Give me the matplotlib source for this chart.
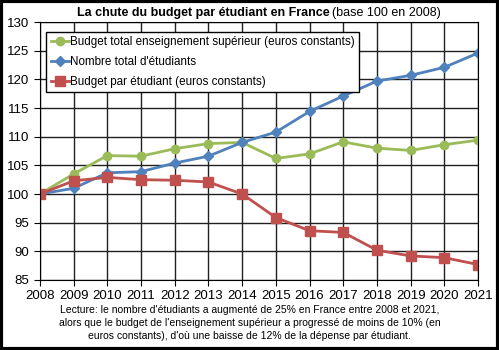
import matplotlib.pyplot as plt
from matplotlib.patches import Rectangle

plt.rcParams['font.family'] = ['Liberation Sans', 'DejaVu Sans']

years = list(range(2008, 2022))
budget_total = [100, 103.5, 106.7, 106.6, 107.9, 108.8, 109.0, 106.2, 107.0, 109.1, 108.0, 107.6, 108.6, 109.4]
nb_etudiants = [100, 101.0, 103.7, 103.9, 105.4, 106.6, 109.0, 110.8, 114.4, 117.1, 119.7, 120.7, 122.1, 124.6]
budget_etudiant = [100, 102.3, 102.9, 102.5, 102.4, 102.1, 100.0, 95.9, 93.6, 93.3, 90.2, 89.2, 88.9, 87.7]

fig = plt.figure(figsize=(4.99, 3.5), dpi=100)
ax = fig.add_axes([0.080, 0.2, 0.878, 0.737])

ax.plot(years, budget_total, color='#9BBB59', marker='o', markersize=6, lw=2,
        label='Budget total enseignement supérieur (euros constants)')
ax.plot(years, nb_etudiants, color='#4F81BD', marker='D', markersize=5.5, lw=2,
        label="Nombre total d'étudiants")
ax.plot(years, budget_etudiant, color='#C0504D', marker='s', markersize=6.5, lw=2,
        label='Budget par étudiant (euros constants)')

ax.set_xlim(2008, 2021)
ax.set_ylim(85, 130)
ax.set_xticks(years)
ax.set_yticks(range(85, 131, 5))
ax.grid(True, color='#202020', lw=1.0)
ax.set_axisbelow(True)
ax.tick_params(labelsize=9.5, length=4, color='black')
for s in ax.spines.values():
    s.set_color('black')

leg = ax.legend(loc='upper left', bbox_to_anchor=(0.015, 0.962), fontsize=8.4,
                handlelength=1.6, handletextpad=0.1, borderpad=0.35,
                labelspacing=0.7, fancybox=False, framealpha=1,
                edgecolor='black', borderaxespad=0)
leg.get_frame().set_linewidth(1.0)

t1 = fig.text(0.154, 0.963, 'La chute du budget par étudiant en France',
              fontsize=9, fontweight='bold', va='center', ha='left')
fig.canvas.draw()
bb = t1.get_window_extent().transformed(fig.transFigure.inverted())
fig.text(bb.x1 + 0.006, 0.963, '(base 100 en 2008)', fontsize=9, va='center', ha='left')

fig.text(0.5, 0.025,
         "Lecture: le nombre d'étudiants a augmenté de 25% en France entre 2008 et 2021,\n"
         "alors que le budget de l'enseignement supérieur a progressé de moins de 10% (en\n"
         "euros constants), d'où une baisse de 12% de la dépense par étudiant.",
         fontsize=7.5, ha='center', va='bottom', linespacing=1.4)

fig.patches.append(Rectangle((0.003, 0.004), 0.994, 0.992, transform=fig.transFigure,
                             fill=False, edgecolor='black', lw=3))

fig.savefig('out.png', dpi=100)
